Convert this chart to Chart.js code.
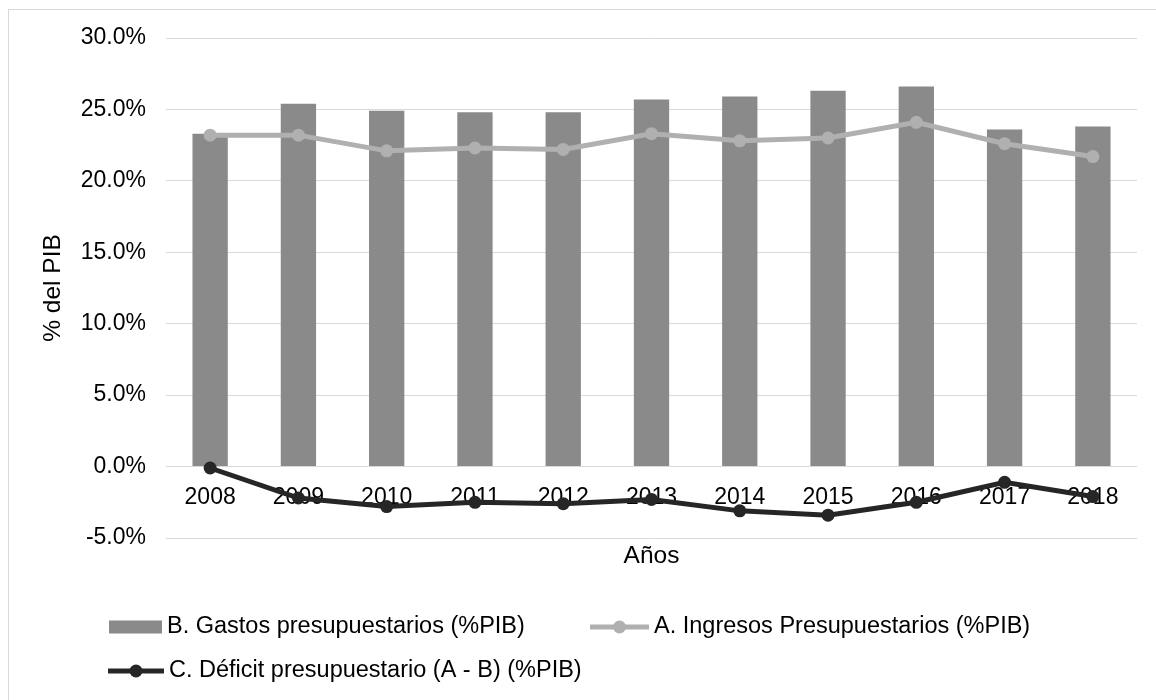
<!DOCTYPE html>
<html>
<head>
<meta charset="utf-8">
<script src="https://cdn.jsdelivr.net/npm/chart.js@4.4.1/dist/chart.umd.min.js"></script>
<style>
  html, body { margin: 0; padding: 0; background: #fff; overflow: hidden; }
  #wrap { position: relative; width: 1156px; height: 700px; }
  #frame { position: absolute; left: 8px; top: 9px; width: 1200px; height: 800px;
           border: 1px solid #d9d9d9; box-sizing: border-box; }
  canvas { position: absolute; left: 0; top: 0; }
</style>
</head>
<body>
<div id="wrap">
  <div id="frame"></div>
  <canvas id="c" width="1156" height="700"></canvas>
</div>
<script>
// Presupuesto público como % del PIB, 2008-2018
const years = ['2008', '2009', '2010', '2011', '2012', '2013', '2014', '2015', '2016', '2017', '2018'];
const gastos = [23.3, 25.4, 24.9, 24.8, 24.8, 25.7, 25.9, 26.3, 26.6, 23.6, 23.8];
const ingresos = [23.2, 23.2, 22.1, 22.3, 22.2, 23.3, 22.8, 23.0, 24.1, 22.6, 21.7];
const deficit = [-0.1, -2.2, -2.8, -2.5, -2.6, -2.3, -3.1, -3.4, -2.5, -1.1, -2.1];
const yMin = -5, yMax = 30, yStep = 5;

const FONT = '"Liberation Sans", Arial, sans-serif';
const C_BAR = '#8a8a8a', C_ING = '#b0b0b0', C_DEF = '#262626';

// Legend drawn in the Excel style: rows of items, line swatches with a marker in the middle
const legendLayout = [
  { ds: 0, x: 109, y: 627, w: 53 },
  { ds: 1, x: 590, y: 627, w: 59 },
  { ds: 2, x: 108, y: 671, w: 56 }
];
const excelLegend = {
  id: 'excelLegend',
  afterDraw(chart) {
    const ctx = chart.ctx;
    ctx.save();
    ctx.font = '23.5px ' + FONT;
    ctx.textBaseline = 'middle';
    ctx.textAlign = 'left';
    legendLayout.forEach(item => {
      const ds = chart.data.datasets[item.ds];
      if (ds.type === 'bar') {
        ctx.fillStyle = ds.backgroundColor;
        ctx.fillRect(item.x, item.y - 6.5, item.w, 13);
      } else {
        ctx.strokeStyle = ds.borderColor;
        ctx.lineWidth = ds.borderWidth;
        ctx.beginPath();
        ctx.moveTo(item.x, item.y);
        ctx.lineTo(item.x + item.w, item.y);
        ctx.stroke();
        ctx.fillStyle = ds.pointBackgroundColor;
        ctx.beginPath();
        ctx.arc(item.x + item.w / 2, item.y, ds.pointRadius, 0, Math.PI * 2);
        ctx.fill();
      }
      ctx.fillStyle = '#000';
      ctx.fillText(ds.label, item.x + item.w + 5, item.y);
    });
    ctx.restore();
  }
};

new Chart(document.getElementById('c'), {
  data: {
    labels: years,
    datasets: [
      {
        type: 'bar',
        label: 'B. Gastos presupuestarios (%PIB)',
        data: gastos,
        backgroundColor: C_BAR,
        categoryPercentage: 1,
        barPercentage: 0.4,
        order: 3
      },
      {
        type: 'line',
        label: 'A. Ingresos Presupuestarios (%PIB)',
        data: ingresos,
        borderColor: C_ING,
        backgroundColor: C_ING,
        pointBackgroundColor: C_ING,
        pointBorderColor: C_ING,
        borderWidth: 5,
        pointRadius: 6.5,
        pointBorderWidth: 0,
        tension: 0,
        order: 2
      },
      {
        type: 'line',
        label: 'C. Déficit presupuestario (A - B) (%PIB)',
        data: deficit,
        borderColor: C_DEF,
        backgroundColor: C_DEF,
        pointBackgroundColor: C_DEF,
        pointBorderColor: C_DEF,
        borderWidth: 5,
        pointRadius: 6.5,
        pointBorderWidth: 0,
        tension: 0,
        order: 1
      }
    ]
  },
  options: {
    responsive: false,
    animation: false,
    devicePixelRatio: 1,
    layout: { padding: { left: 35, right: 19, top: 38, bottom: 124.6 } },
    plugins: {
      legend: { display: false },
      tooltip: { enabled: false }
    },
    scales: {
      y: {
        type: 'linear',
        min: yMin,
        max: yMax,
        afterFit(scale) { scale.width = 131; },
        ticks: {
          stepSize: yStep,
          padding: 20,
          color: '#000',
          font: { family: FONT, size: 23 },
          callback: v => v.toFixed(1) + '%'
        },
        grid: { color: '#d9d9d9', lineWidth: 1, drawTicks: false },
        border: { display: false },
        title: {
          display: true,
          text: '% del PIB',
          color: '#000',
          font: { family: FONT, size: 24.5 }
        }
      },
      x: {
        type: 'category',
        position: { y: 0 },
        grid: { display: false, drawTicks: false },
        border: { display: false },
        ticks: {
          padding: 17,
          color: '#000',
          autoSkip: false,
          maxRotation: 0,
          font: { family: FONT, size: 23 }
        }
      },
      x2: {
        type: 'category',
        axis: 'x',
        position: 'bottom',
        labels: years,
        grid: { display: false, drawTicks: false },
        border: { display: false },
        ticks: { display: false },
        title: {
          display: true,
          text: 'Años',
          color: '#000',
          font: { family: FONT, size: 24.5 }
        }
      }
    }
  },
  plugins: [excelLegend]
});
</script>
</body>
</html>
